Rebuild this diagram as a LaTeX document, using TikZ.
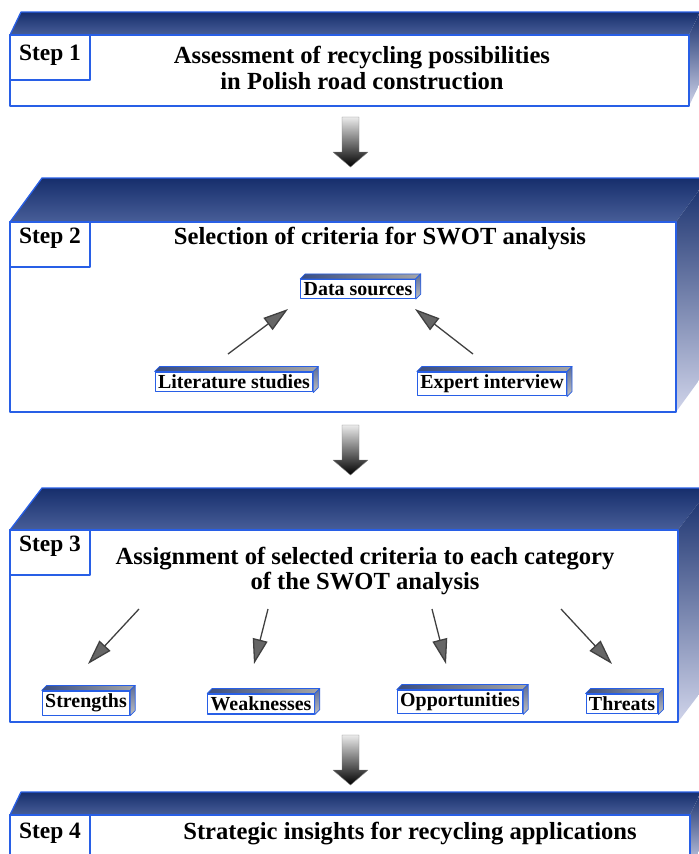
\documentclass[tikz,border=0pt]{standalone}
\usepackage{fontspec}
\setmainfont{Liberation Serif}
\usetikzlibrary{arrows.meta}

\definecolor{edgeblue}{RGB}{40,95,230}
\definecolor{navy}{RGB}{22,46,108}
\definecolor{navylight}{RGB}{72,94,152}
\definecolor{sidepale}{RGB}{208,212,234}

% front face, step label, top and side faces of one slab
% #1 top y, #2 right x, #3 bottom y, #4 depth dx, #5 depth dy
\newcommand{\slab}[5]{%
  \shade[top color=navy, bottom color=navylight] (10,#1) -- ++(#4,-#5) -- ++(#2-10,0) -- (#2,#1) -- cycle;
  \shade[top color=navy, bottom color=sidepale] (#2,#1) -- ++(#4,-#5) -- ++(0,#3-#1) -- (#2,#3) -- cycle;
  \draw[edgeblue, fill=white] (10,#1) rectangle (#2,#3);
  \draw[edgeblue] (10,#1) -- ++(#4,-#5) -- ++(#2-10,0);
  \draw[edgeblue] (10,#1) rectangle (90,#1+45);
}

\begin{document}
\begin{tikzpicture}[x=0.03cm, y=-0.03cm, line width=1.1pt, line join=round,
    steplbl/.style={font=\fontsize{20}{22}\selectfont\bfseries},
    title/.style={font=\fontsize{21}{21.5}\selectfont\bfseries, align=center},
    facet/.style={draw=edgeblue, fill=white, line width=0.9pt, inner xsep=2.5pt, inner ysep=2.5pt,
      font=\fontsize{17}{18}\selectfont\bfseries},
    link/.style={draw=black!75, line width=1.1pt,
      -{Triangle[length=0.75cm, width=0.45cm, fill=black!60]}}]
  \useasboundingbox (0,0) rectangle (699,854);
  \clip (0,0) rectangle (699,854);

  % slabs
  \slab{35}{689}{106}{11}{23}
  \slab{222}{676}{412}{32}{44}
  \slab{530}{678}{722}{32}{42}
  \slab{815}{690}{870}{11}{23}

  % step labels and titles
  \node[steplbl] (s1) at (50,55) {Step 1};
  \node[steplbl] (s2) at (50,238) {Step 2};
  \node[steplbl] (s3) at (50,546) {Step 3};
  \node[steplbl] (s4) at (50,833) {Step 4};
  \node[title] (t1) at (362,68) {Assessment of recycling possibilities\\in Polish road construction};
  \node[title] (t2) at (380,238) {Selection of criteria for SWOT analysis};
  \node[title] (t3) at (365,571) {Assignment of selected criteria to each category\\of the SWOT analysis};
  \node[title] (t4) at (410,834) {Strategic insights for recycling applications};

  % big arrows between the steps
  \foreach \y in {117,425,735}
    \shade[top color=black!8, bottom color=black, draw=black!50, line width=0.4pt]
      (342,\y) -- (359,\y) -- (359,\y+35) -- (368,\y+35) -- (350.5,\y+50)
      -- (333,\y+35) -- (342,\y+35) -- cycle;

  % step 2 boxes
  \node[facet] (src) at (358,289) {Data sources};
  \node[facet] (lit) at (234,382) {Literature studies};
  \node[facet] (exp) at (492,384) {Expert interview};

  % step 3 boxes
  \node[facet] (str) at (86,703) {Strengths};
  \node[facet] (wea) at (261,704) {Weaknesses};
  \node[facet] (opp) at (460,702) {Opportunities};
  \node[facet] (thr) at (622,704) {Threats};

  \foreach \n in {src,lit,exp,str,wea,opp,thr}{
    \shade[left color=navy!85, right color=black!35, draw=edgeblue, line width=0.6pt]
      (\n.north west) -- ++(5,-5) -- ([shift={(5,-5)}]\n.north east) -- (\n.north east) -- cycle;
    \shade[top color=navy!70, bottom color=black!25, draw=edgeblue, line width=0.6pt]
      (\n.north east) -- ++(5,-5) -- ([shift={(5,-5)}]\n.south east) -- (\n.south east) -- cycle;
  }

  % thin arrows
  \coordinate (litA) at (228,354);
  \coordinate (litB) at (288,309);
  \coordinate (expA) at (473,354);
  \coordinate (expB) at (415,309);
  \draw[link] (litA) -- (litB);
  \draw[link] (expA) -- (expB);

  \coordinate (strA) at (139,609);
  \coordinate (strB) at (88,664);
  \coordinate (weaA) at (268,609);
  \coordinate (weaB) at (254,664);
  \coordinate (oppA) at (432,609);
  \coordinate (oppB) at (446,664);
  \coordinate (thrA) at (561,609);
  \coordinate (thrB) at (612,664);
  \draw[link] (strA) -- (strB);
  \draw[link] (weaA) -- (weaB);
  \draw[link] (oppA) -- (oppB);
  \draw[link] (thrA) -- (thrB);
\end{tikzpicture}
\end{document}
